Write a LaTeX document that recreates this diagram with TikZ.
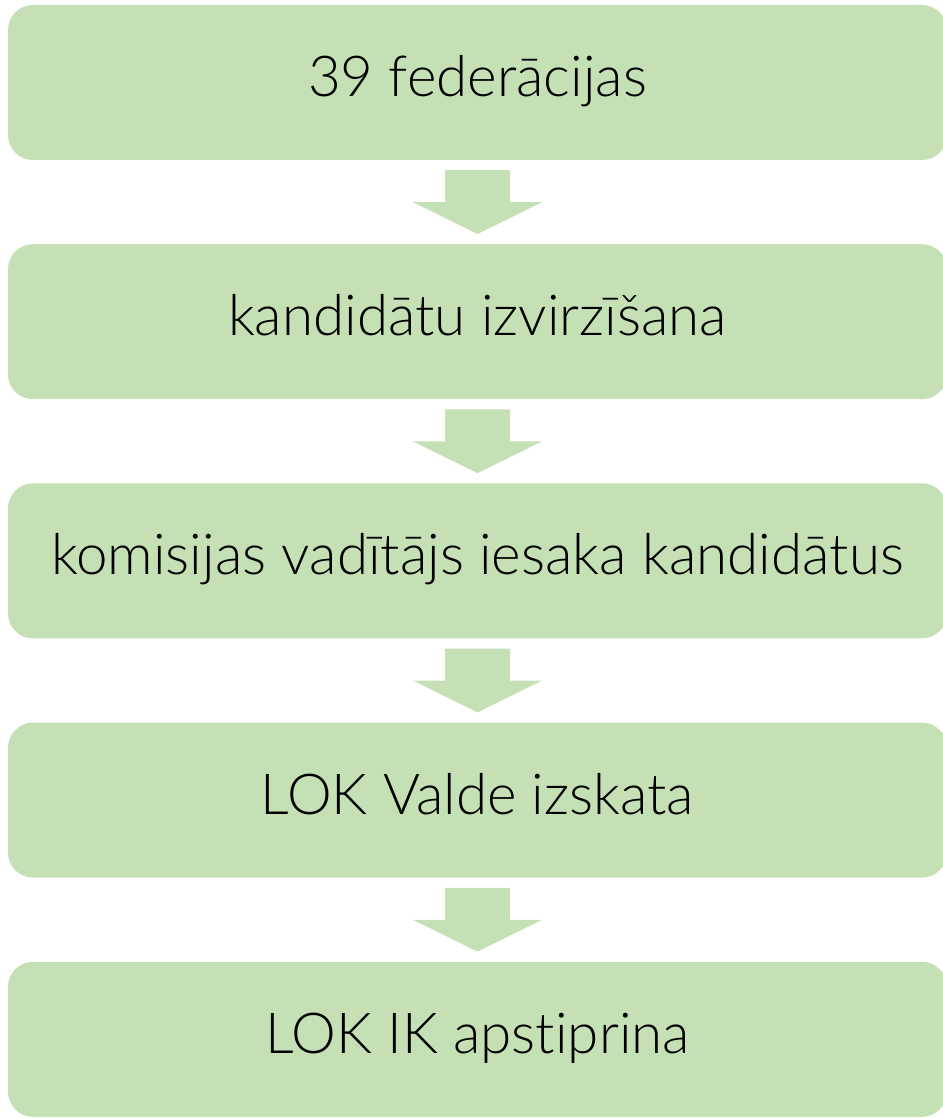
\documentclass[tikz,border=0pt]{standalone}
\usepackage{fontspec}
\setmainfont{Lato Light}[Ligatures=NoCommon]
\usetikzlibrary{calc}
\definecolor{boxgreen}{HTML}{C5E0B4}
\tikzset{
  stepbox/.style={fill=boxgreen, draw=none, rounded corners=25pt, minimum width=939pt, minimum height=155pt, inner sep=0pt},
  steptext/.style={font=\fontsize{56.5}{60}\selectfont, text=black, anchor=base},
  flowarrow/.style={fill=boxgreen, draw=none}
}
\begin{document}
\begin{tikzpicture}[x=1pt,y=-1pt]
\useasboundingbox (0,0) rectangle (942,1118);
\foreach \i/\t [count=\k from 0] in {b1/39 federācijas, b2/kandidātu izvirzīšana, b3/komisijas vadītājs iesaka kandidātus, b4/LOK Valde izskata, b5/LOK IK apstiprina}{
  \node[stepbox] (\i) at (477.5, 82.5+239.2*\k) {};
  \node[steptext] (\i t) at ($(\i.center)+(0,14)$) {\t};
}
\foreach \a/\b in {b1/b2, b2/b3, b3/b4, b4/b5}{
  \coordinate (\a tip) at ($(\b.north)+(0,-10)$);
  \fill[flowarrow] ($(\a.south)+(-32.5,10)$) -- ($(\a.south)+(32.5,10)$) -- ($(\a.south)+(32.5,42)$) -- ($(\a.south)+(64.5,42)$) -- (\a tip) -- ($(\a.south)+(-64.5,42)$) -- ($(\a.south)+(-32.5,42)$) -- cycle;
}
\end{tikzpicture}
\end{document}
